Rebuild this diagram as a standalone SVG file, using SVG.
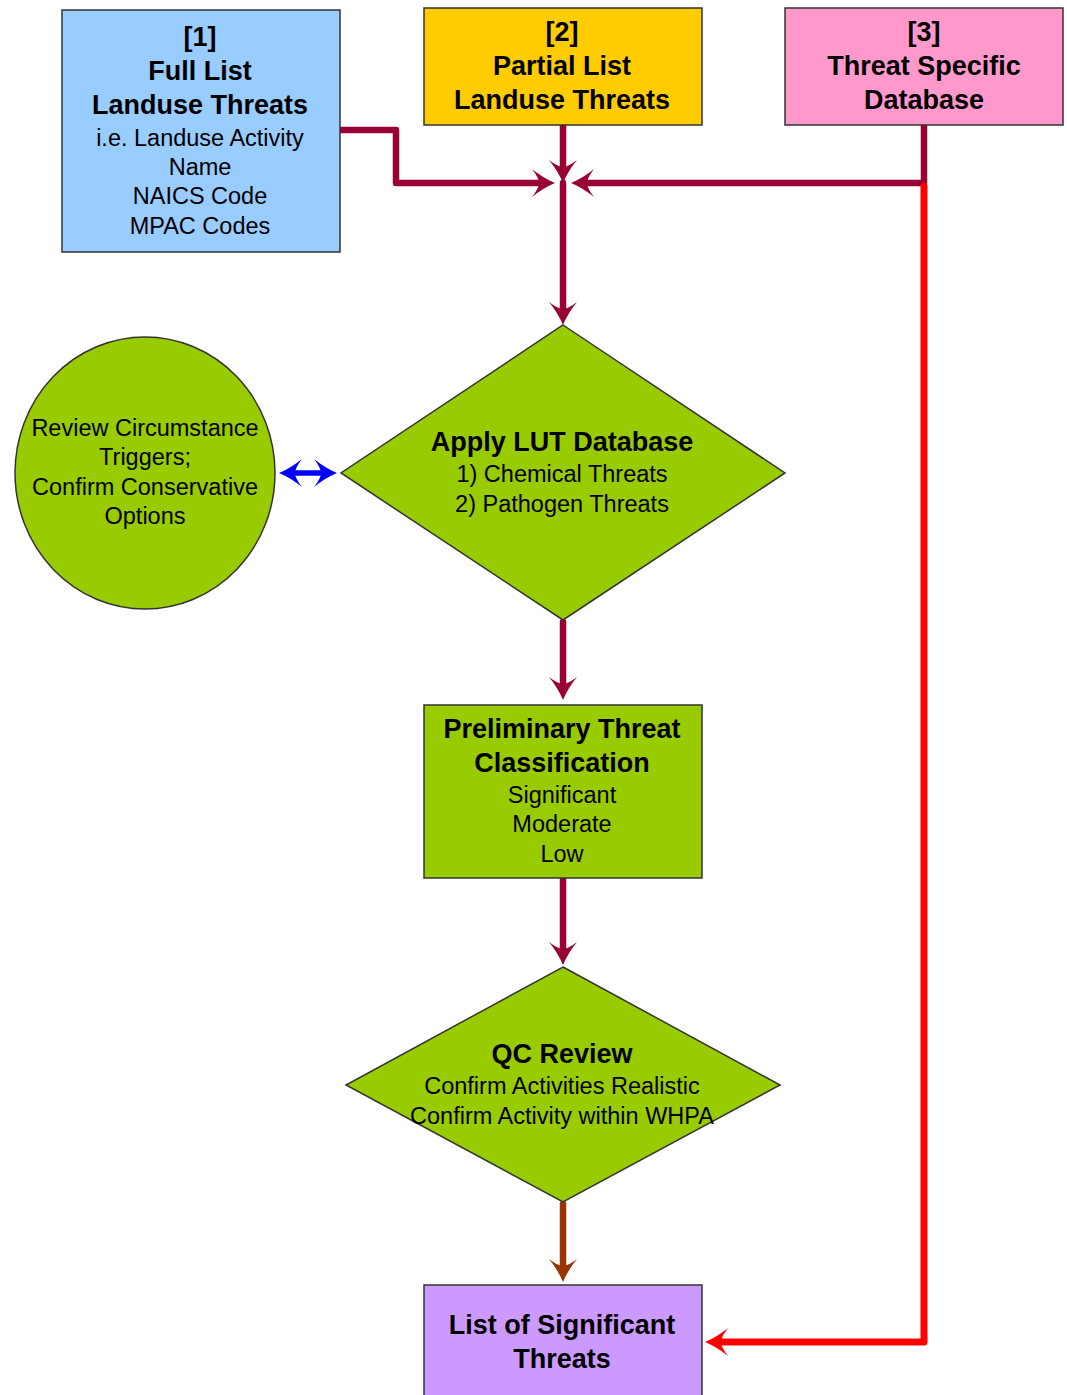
<svg xmlns="http://www.w3.org/2000/svg" width="1067" height="1395" viewBox="0 0 1067 1395">
<style>
.shape{stroke:#333;stroke-width:1.5}
text{font-family:"Liberation Sans",Arial,sans-serif;text-anchor:middle;fill:#000}
.b{font-weight:bold;font-size:27px}
.r{font-size:23.5px}
.c{fill:none;stroke-linecap:round;stroke-linejoin:round}
</style>
<defs>
<marker id="ac" markerUnits="userSpaceOnUse" viewBox="-2 -16 30 32" markerWidth="30" markerHeight="32" refX="10" refY="0" orient="auto">
<path d="M23,0 Q11,-5 0,-14 Q7,-5 7,0 Q7,5 0,14 Q11,5 23,0Z" fill="#990033"/>
</marker>
<marker id="ab" markerUnits="userSpaceOnUse" viewBox="-2 -16 30 32" markerWidth="30" markerHeight="32" refX="10" refY="0" orient="auto">
<path d="M23,0 Q11,-5 0,-14 Q7,-5 7,0 Q7,5 0,14 Q11,5 23,0Z" fill="#993300"/>
</marker>
<marker id="ar" markerUnits="userSpaceOnUse" viewBox="-2 -16 30 32" markerWidth="30" markerHeight="32" refX="10" refY="0" orient="auto">
<path d="M23,0 Q11,-5 0,-14 Q7,-5 7,0 Q7,5 0,14 Q11,5 23,0Z" fill="#ff0000"/>
</marker>
<marker id="abl" markerUnits="userSpaceOnUse" viewBox="-2 -16 30 32" markerWidth="30" markerHeight="32" refX="10" refY="0" orient="auto-start-reverse">
<path d="M23,0 Q11,-5 0,-14 Q7,-5 7,0 Q7,5 0,14 Q11,5 23,0Z" fill="#0000ff"/>
</marker>
</defs>
<rect width="1067" height="1395" fill="#fff"/>
<g id="connectors">
<path class="c" d="M340,130 H396 V183 H542" stroke="#990033" stroke-width="6.5" marker-end="url(#ac)"/>
<path class="c" d="M563,125 V170" stroke="#990033" stroke-width="6.5" marker-end="url(#ac)"/>
<path class="c" d="M924,123 V183 H584" stroke="#990033" stroke-width="6.5" marker-end="url(#ac)"/>
<path class="c" d="M563,183 V312" stroke="#990033" stroke-width="6.5" marker-end="url(#ac)"/>
<path class="c" d="M924,186 V1342 H718" stroke="#ff0000" stroke-width="7" marker-end="url(#ar)"/>
<path class="c" d="M563,622 V687" stroke="#990033" stroke-width="6.5" marker-end="url(#ac)"/>
<path class="c" d="M563,880 V952" stroke="#990033" stroke-width="6.5" marker-end="url(#ac)"/>
<path class="c" d="M563,1204 V1269" stroke="#993300" stroke-width="6.5" marker-end="url(#ab)"/>
<path d="M292,473 H324" stroke="#0000ff" stroke-width="5.5" fill="none" marker-start="url(#abl)" marker-end="url(#abl)"/>
</g>
<g id="n1">
<rect class="shape" x="62" y="10" width="278" height="242" fill="#99ccff"/>
<text class="b" x="200" y="46">[1]</text>
<text class="b" x="200" y="80">Full List</text>
<text class="b" x="200" y="114">Landuse Threats</text>
<text class="r" x="200" y="146">i.e. Landuse Activity</text>
<text class="r" x="200" y="175">Name</text>
<text class="r" x="200" y="204">NAICS Code</text>
<text class="r" x="200" y="234">MPAC Codes</text>
</g>
<g id="n2">
<rect class="shape" x="424" y="8" width="278" height="117" fill="#ffcc00"/>
<text class="b" x="562" y="41">[2]</text>
<text class="b" x="562" y="75">Partial List</text>
<text class="b" x="562" y="109">Landuse Threats</text>
</g>
<g id="n3">
<rect class="shape" x="785" y="8" width="278" height="117" fill="#ff99cc"/>
<text class="b" x="924" y="41">[3]</text>
<text class="b" x="924" y="75">Threat Specific</text>
<text class="b" x="924" y="109">Database</text>
</g>
<g id="n4">
<ellipse class="shape" cx="145" cy="473" rx="130" ry="136" fill="#99cc00"/>
<text class="r" x="145" y="436">Review Circumstance</text>
<text class="r" x="145" y="465">Triggers;</text>
<text class="r" x="145" y="495">Confirm Conservative</text>
<text class="r" x="145" y="524">Options</text>
</g>
<g id="n5">
<polygon class="shape" points="563,325 785,473 563,620 341,473" fill="#99cc00"/>
<text class="b" x="562" y="451">Apply LUT Database</text>
<text class="r" x="562" y="482">1) Chemical Threats</text>
<text class="r" x="562" y="512">2) Pathogen Threats</text>
</g>
<g id="n6">
<rect class="shape" x="424" y="705" width="278" height="173" fill="#99cc00"/>
<text class="b" x="562" y="738">Preliminary Threat</text>
<text class="b" x="562" y="772">Classification</text>
<text class="r" x="562" y="803">Significant</text>
<text class="r" x="562" y="832">Moderate</text>
<text class="r" x="562" y="862">Low</text>
</g>
<g id="n7">
<polygon class="shape" points="563,967 780,1085 563,1202 346,1085" fill="#99cc00"/>
<text class="b" x="562" y="1063">QC Review</text>
<text class="r" x="562" y="1094">Confirm Activities Realistic</text>
<text class="r" x="562" y="1124">Confirm Activity within WHPA</text>
</g>
<g id="n8">
<rect class="shape" x="424" y="1285" width="278" height="130" fill="#cc99ff"/>
<text class="b" x="562" y="1334">List of Significant</text>
<text class="b" x="562" y="1368">Threats</text>
</g>
</svg>
